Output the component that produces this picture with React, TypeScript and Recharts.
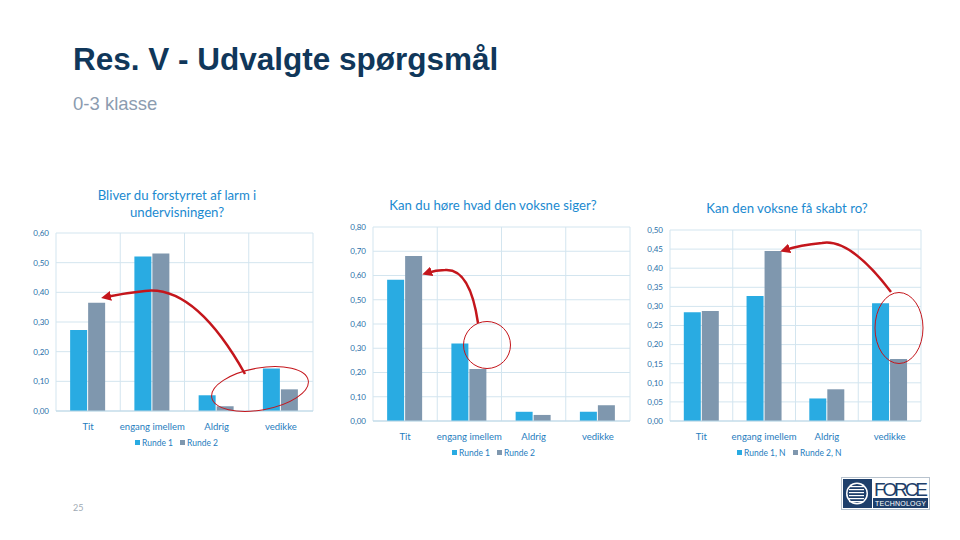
import React from 'react';
import { BarChart, Bar, XAxis, YAxis, CartesianGrid } from 'recharts';

const categories = ['Tit', 'engang imellem', 'Aldrig', 'vedikke'];

const larmRunde1 = [0.273, 0.521, 0.053, 0.143];
const larmRunde2 = [0.365, 0.531, 0.016, 0.073];
const larmTicks = [0, 0.1, 0.2, 0.3, 0.4, 0.5, 0.6];

const hoereRunde1 = [0.582, 0.32, 0.038, 0.038];
const hoereRunde2 = [0.68, 0.214, 0.025, 0.065];
const hoereTicks = [0, 0.1, 0.2, 0.3, 0.4, 0.5, 0.6, 0.7, 0.8];

const roRunde1 = [0.285, 0.327, 0.059, 0.308];
const roRunde2 = [0.288, 0.445, 0.083, 0.162];
const roTicks = [0, 0.05, 0.1, 0.15, 0.2, 0.25, 0.3, 0.35, 0.4, 0.45, 0.5];

const BLUE = '#29ABE2';
const GREY = '#7F97AE';
const GRID = '#D3E5EF';
const TEXT = '#1F7DBE';
const FONT = 'Lato, "Open Sans", sans-serif';

const fmt = (v: number) => v.toFixed(2).replace('.', ',');

function toRows(a: number[], b: number[]) {
  return categories.map((name, i) => ({ name, r1: a[i], r2: b[i] }));
}

interface QProps {
  left: number;
  top: number;
  width: number;
  height: number;
  margin: { top: number; right: number; bottom: number; left: number };
  yWidth: number;
  ticks: number[];
  r1: number[];
  r2: number[];
}

function QuestionChart({ left, top, width, height, margin, yWidth, ticks, r1, r2 }: QProps) {
  return (
    <div style={{ position: 'absolute', left, top }}>
      <BarChart
        width={width}
        height={height}
        data={toRows(r1, r2)}
        margin={margin}
        barCategoryGap="22%"
        barGap={1}
      >
        <CartesianGrid
          stroke={GRID}
          strokeWidth={1}
          verticalCoordinatesGenerator={({ offset }: any) =>
            [0, 1, 2, 3, 4].map((i) => offset.left + (i * offset.width) / 4)
          }
        />
        <XAxis
          dataKey="name"
          axisLine={{ stroke: '#BCD7E6' }}
          tickLine={false}
          tickMargin={6}
          height={20}
          tick={{ fill: TEXT, fontSize: 9.5, fontFamily: FONT }}
          interval={0}
        />
        <YAxis
          width={yWidth}
          domain={[ticks[0], ticks[ticks.length - 1]]}
          ticks={ticks}
          interval={0}
          axisLine={false}
          tickLine={false}
          tickSize={0}
          tickMargin={7}
          tickFormatter={fmt}
          tick={{ fill: '#2A6FA8', fontSize: 8, fontFamily: FONT }}
        />
        <Bar dataKey="r1" fill={BLUE} isAnimationActive={false} />
        <Bar dataKey="r2" fill={GREY} isAnimationActive={false} />
      </BarChart>
    </div>
  );
}

function LegendItems({ x1, x2, y, labels }: { x1: number; x2: number; y: number; labels: string[] }) {
  return (
    <g fontFamily={FONT} fontSize={8.5} fill={TEXT}>
      <rect x={x1} y={y - 6} width={5} height={5} fill={BLUE} />
      <text x={x1 + 7} y={y}>{labels[0]}</text>
      <rect x={x2} y={y - 6} width={5} height={5} fill={GREY} />
      <text x={x2 + 7} y={y}>{labels[1]}</text>
    </g>
  );
}

export default function App() {
  return (
    <div style={{ position: 'absolute', left: 0, top: 0, width: 960, height: 540, background: '#fff', overflow: 'hidden' }}>
      <QuestionChart
        left={20}
        top={180}
        width={320}
        height={270}
        margin={{ top: 53, right: 27, bottom: 19, left: 0 }}
        yWidth={36}
        ticks={larmTicks}
        r1={larmRunde1}
        r2={larmRunde2}
      />
      <QuestionChart
        left={335}
        top={190}
        width={300}
        height={280}
        margin={{ top: 37, right: 5, bottom: 29, left: 0 }}
        yWidth={38}
        ticks={hoereTicks}
        r1={hoereRunde1}
        r2={hoereRunde2}
      />
      <QuestionChart
        left={630}
        top={190}
        width={330}
        height={280}
        margin={{ top: 40, right: 39, bottom: 29, left: 0 }}
        yWidth={40}
        ticks={roTicks}
        r1={roRunde1}
        r2={roRunde2}
      />

      <svg width={960} height={540} style={{ position: 'absolute', left: 0, top: 0, pointerEvents: 'none' }}>
        <defs>
          <marker id="head" viewBox="0 0 10 10" refX="5" refY="5" markerWidth="4" markerHeight="4" orient="auto-start-reverse">
            <path d="M0,0 L10,5 L0,10 z" fill="#C4161C" />
          </marker>
        </defs>

        <text x={73} y={70} fontFamily='"Liberation Sans", Arial, sans-serif' fontWeight="bold" fontSize={31.5} fill="#10375A">
          Res. V - Udvalgte spørgsmål
        </text>
        <text x={73} y={110} fontFamily='"Liberation Sans", Arial, sans-serif' fontSize={18.5} fill="#8C9CB0">
          0-3 klasse
        </text>

        <g fontFamily={FONT} fontSize={13.2} fill="#1B8AD0" textAnchor="middle">
          <text x={177} y={200}>Bliver du forstyrret af larm i</text>
          <text x={177} y={217}>undervisningen?</text>
          <text x={493} y={210}>Kan du høre hvad den voksne siger?</text>
          <text x={787} y={213}>Kan den voksne få skabt ro?</text>
        </g>

        <LegendItems x1={135} x2={180} y={446} labels={['Runde 1', 'Runde 2']} />
        <LegendItems x1={452} x2={497} y={456} labels={['Runde 1', 'Runde 2']} />
        <LegendItems x1={737} x2={793} y={456} labels={['Runde 1, N', 'Runde 2, N']} />

        <g fill="none" stroke="#C4161C">
          <ellipse cx={260} cy={389} rx={49} ry={21} transform="rotate(-10 260 389)" strokeWidth={1} />
          <path d="M245,374 Q195,285 145,291 Q125,293 106,297" strokeWidth={2.5} markerEnd="url(#head)" />
          <circle cx={487} cy={345} r={23.5} strokeWidth={1} />
          <path d="M478,323 Q470,268 445,270 Q436,270 427,273" strokeWidth={2.5} markerEnd="url(#head)" />
          <ellipse cx={899} cy={328} rx={24} ry={35.5} strokeWidth={1} />
          <path d="M891,292 Q850,238 822,243 Q800,245 785,250" strokeWidth={2.5} markerEnd="url(#head)" />
        </g>

        <text x={73} y={511} fontFamily={FONT} fontSize={9} fill="#A0AAB4">25</text>

        <g>
          <rect x={841.5} y={477.5} width={88} height={32} fill="#fff" stroke="#B8C3CE" />
          <rect x={843} y={479} width={29} height={29} fill="#1E3F6B" />
          <circle cx={857} cy={493.5} r={11} fill="#fff" />
          <circle cx={857} cy={493.5} r={9.5} fill="#1E3F6B" />
          {[486, 489, 492, 495, 498, 501].map((y) => (
            <rect key={y} x={849} y={y} width={15} height={1.2} fill="#fff" />
          ))}
          <text x={874} y={496} fontFamily='"Liberation Sans", Arial, sans-serif' fontSize={19} fill="#1E3F6B" textLength={54}>
            FORCE
          </text>
          <rect x={873} y={498} width={55} height={10} fill="#1E3F6B" />
          <text x={875} y={506} fontFamily='"Liberation Sans", Arial, sans-serif' fontSize={7} fill="#fff" textLength={51}>
            TECHNOLOGY
          </text>
        </g>
      </svg>
    </div>
  );
}
